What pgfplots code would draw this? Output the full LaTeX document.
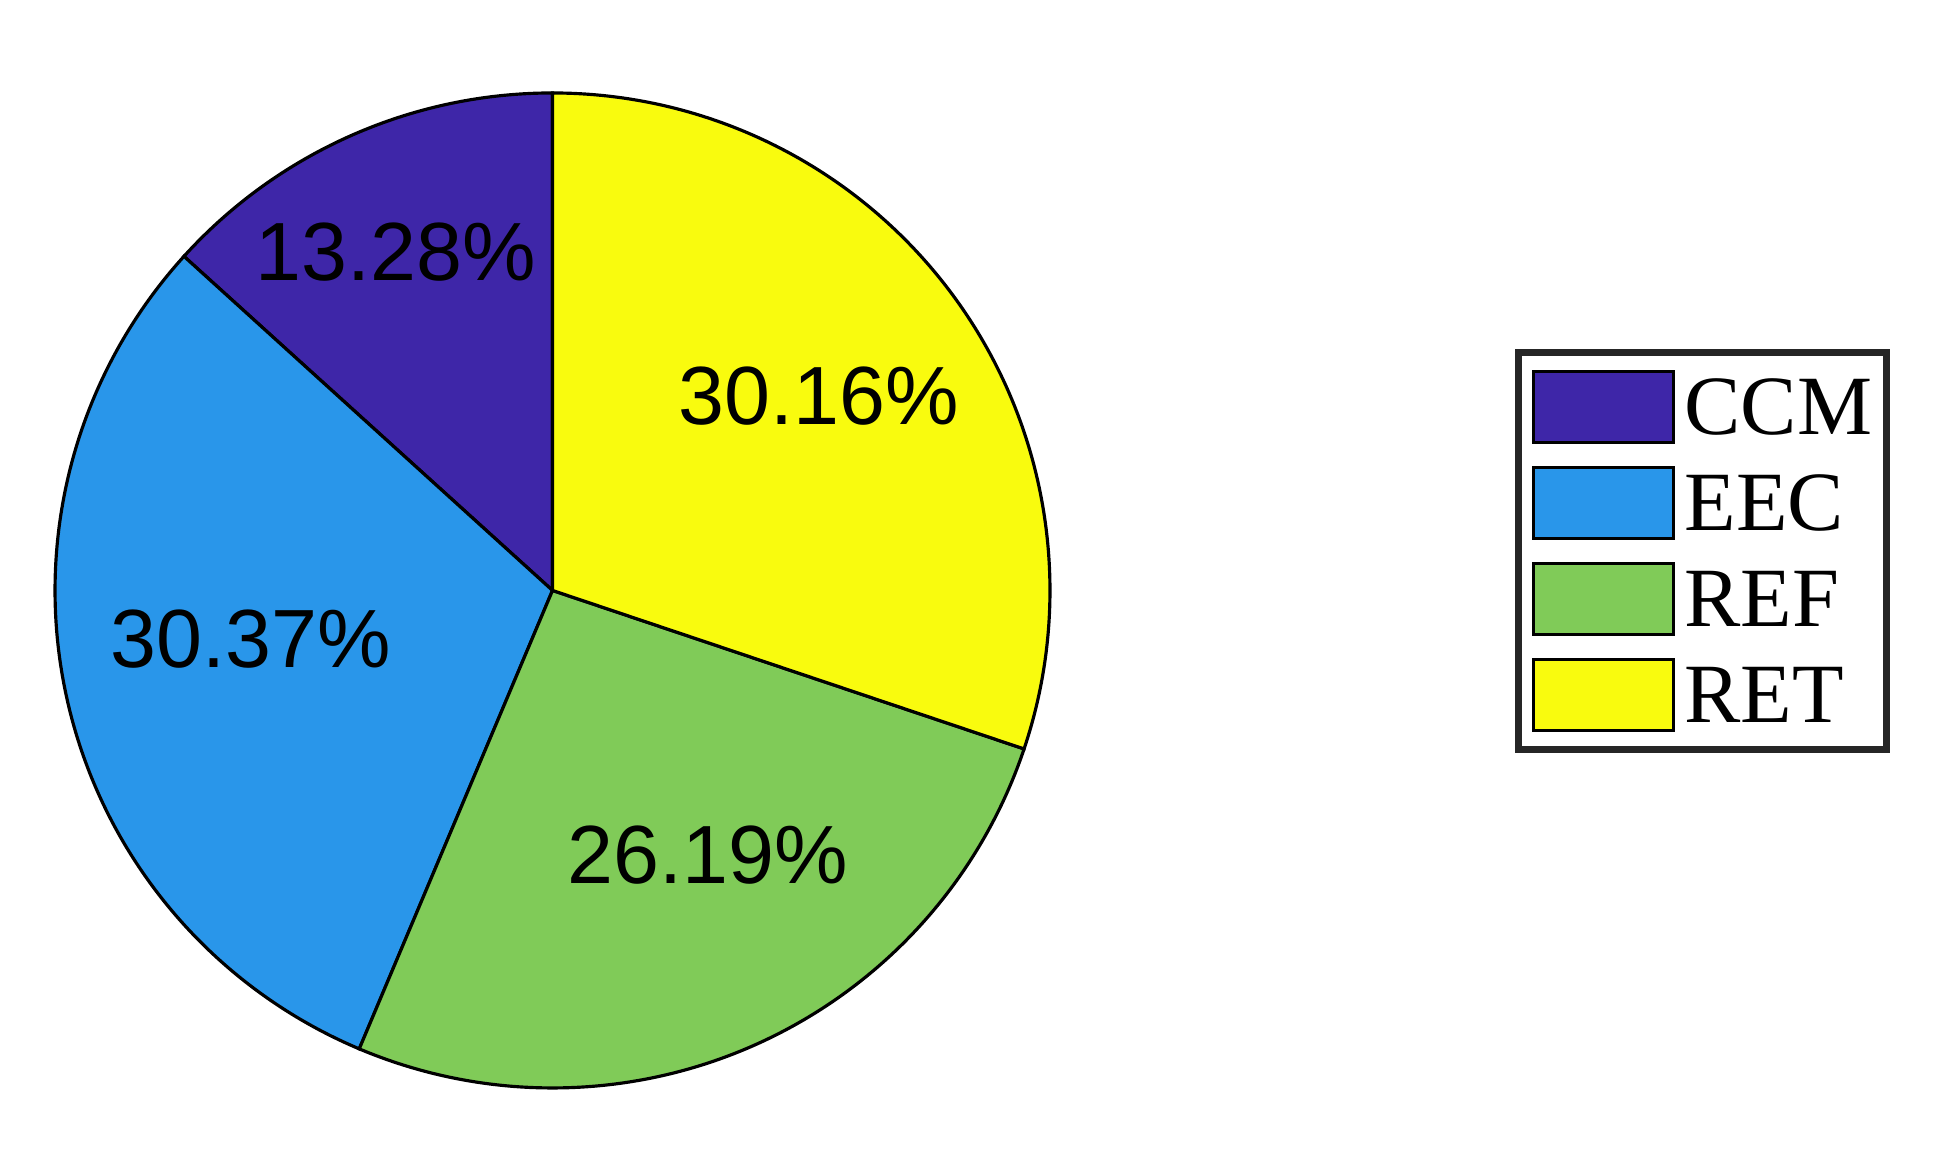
\documentclass[border=0pt]{standalone}
\usepackage{fontspec}
\setmainfont{Liberation Serif}
\newfontfamily\labelfont{Liberation Sans}
\usepackage{pgfplots}
\pgfplotsset{compat=1.18}

\definecolor{ccm}{RGB}{62,38,168}
\definecolor{eec}{RGB}{41,150,234}
\definecolor{ref}{RGB}{128,203,88}
\definecolor{ret}{RGB}{249,251,14}
\definecolor{legframe}{RGB}{38,38,38}

% shares in percent
\def\vCCM{13.28}
\def\vEEC{30.37}
\def\vREF{26.19}
\def\vRET{30.16}

\begin{document}
\begin{tikzpicture}
\pgfmathsetmacro\aA{90}
\pgfmathsetmacro\aB{\aA+3.6*\vCCM}
\pgfmathsetmacro\aC{\aB+3.6*\vEEC}
\pgfmathsetmacro\aD{\aC+3.6*\vREF}
\pgfmathsetmacro\aE{\aD+3.6*\vRET}
\begin{axis}[
    width=19.51cm, height=11.64cm, scale only axis,
    xmin=-1.1106, xmax=2.8111,
    ymin=-1.1528, ymax=1.1869,
    hide axis, clip=false,
    legend cell align=left,
    legend style={at={(axis cs:1.9417,0.4784)}, anchor=north west,
        draw=legframe, line width=2pt, outer sep=0pt,
        inner xsep=1.4mm, inner ysep=1.75mm, row sep=2.2mm,
        font=\fontsize{24}{26}\selectfont,
        nodes={inner sep=0pt, text width=18.8mm, align=left, text depth=0pt}},
    legend image code/.code={
        \draw[#1, draw=black, line width=0.85pt] (0mm,-3.55mm) rectangle (14mm,3.55mm);
        \path (14.7mm,0);},
]
% keep the whole canvas as the picture's bounding box
\path (rel axis cs:0,0) rectangle (rel axis cs:1,1);

\filldraw[fill=ccm, draw=black, line width=0.9pt] (axis cs:0,0) -- (axis cs:{cos(\aA)},{sin(\aA)})
    arc[start angle=\aA, end angle=\aB, radius=4.975cm] -- cycle;
\filldraw[fill=eec, draw=black, line width=0.9pt] (axis cs:0,0) -- (axis cs:{cos(\aB)},{sin(\aB)})
    arc[start angle=\aB, end angle=\aC, radius=4.975cm] -- cycle;
\filldraw[fill=ref, draw=black, line width=0.9pt] (axis cs:0,0) -- (axis cs:{cos(\aC)},{sin(\aC)})
    arc[start angle=\aC, end angle=\aD, radius=4.975cm] -- cycle;
\filldraw[fill=ret, draw=black, line width=0.9pt] (axis cs:0,0) -- (axis cs:{cos(\aD)},{sin(\aD)})
    arc[start angle=\aD, end angle=\aE, radius=4.975cm] -- cycle;

\node[font=\labelfont\fontsize{23.5}{25}\selectfont] at (axis cs:-0.3156,0.6794) {13.28\%};
\node[font=\labelfont\fontsize{23.5}{25}\selectfont] at (axis cs:0.5357,0.3910) {30.16\%};
\node[font=\labelfont\fontsize{23.5}{25}\selectfont] at (axis cs:-0.6071,-0.0975) {30.37\%};
\node[font=\labelfont\fontsize{23.5}{25}\selectfont] at (axis cs:0.3116,-0.5327) {26.19\%};

\addlegendimage{fill=ccm}
\addlegendentry{CCM}
\addlegendimage{fill=eec}
\addlegendentry{EEC}
\addlegendimage{fill=ref}
\addlegendentry{REF}
\addlegendimage{fill=ret}
\addlegendentry{RET}
\end{axis}
\end{tikzpicture}
\end{document}
